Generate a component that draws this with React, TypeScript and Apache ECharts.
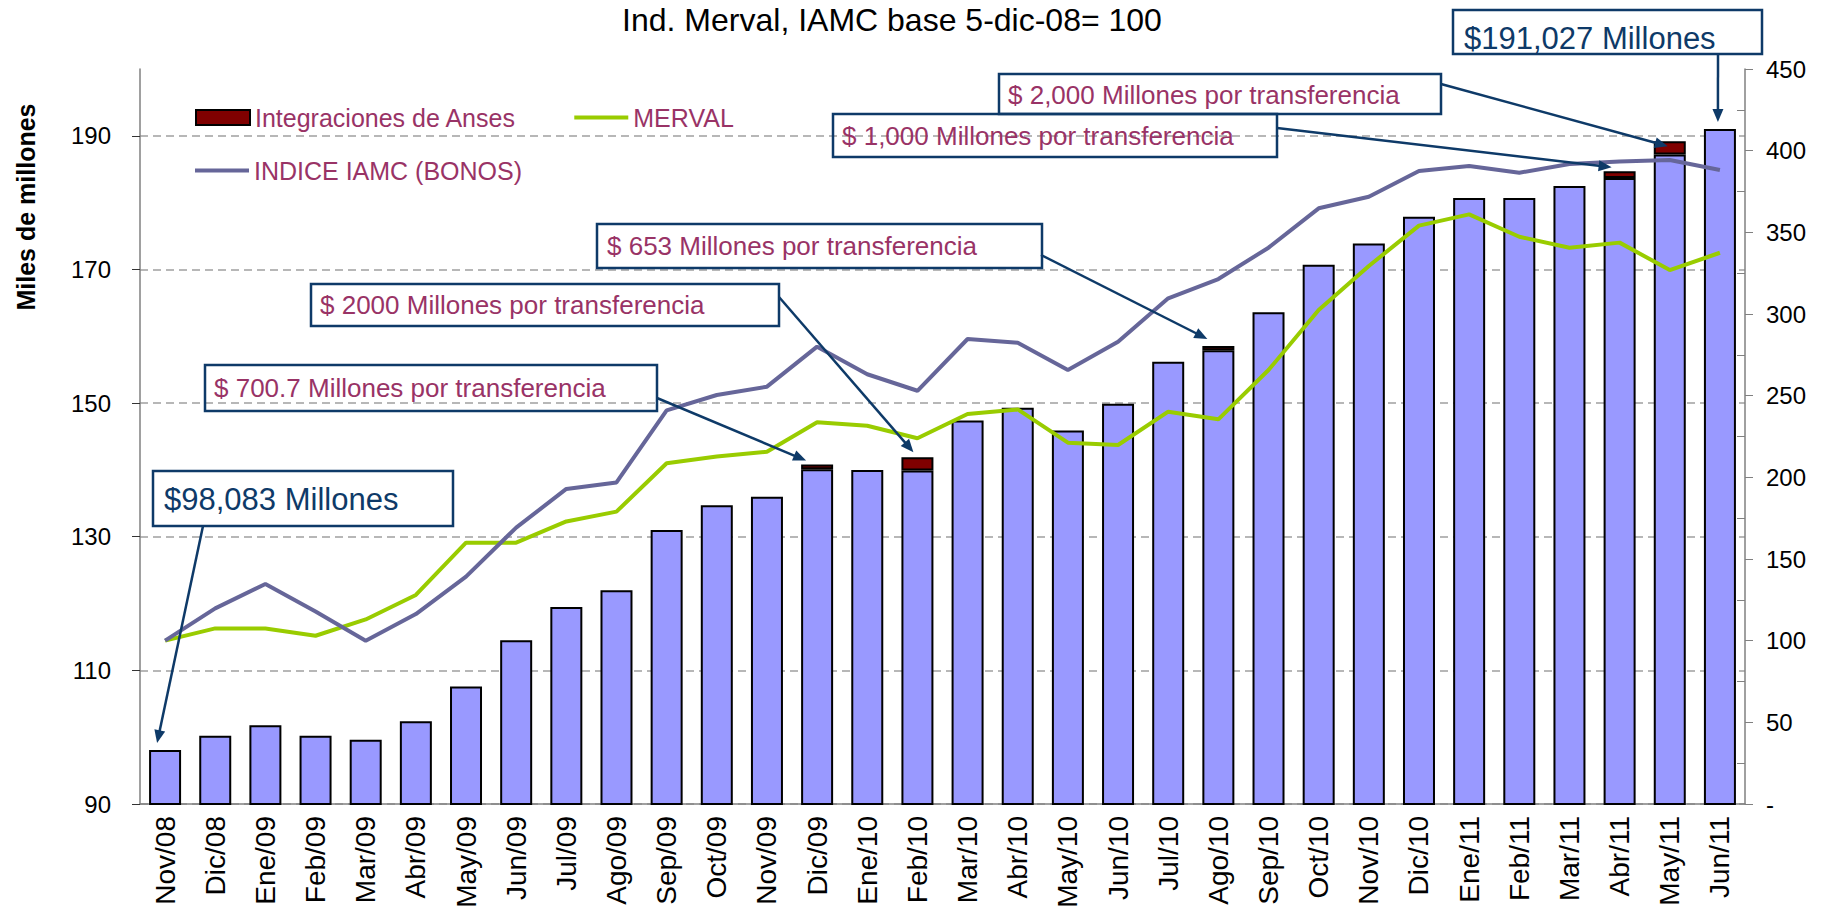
import React, { useEffect, useRef } from 'react';
import * as echarts from 'echarts';

// ---------- DATA ----------
const categories = [
  'Nov/08', 'Dic/08', 'Ene/09', 'Feb/09', 'Mar/09', 'Abr/09', 'May/09', 'Jun/09',
  'Jul/09', 'Ago/09', 'Sep/09', 'Oct/09', 'Nov/09', 'Dic/09', 'Ene/10', 'Feb/10',
  'Mar/10', 'Abr/10', 'May/10', 'Jun/10', 'Jul/10', 'Ago/10', 'Sep/10', 'Oct/10',
  'Nov/10', 'Dic/10', 'Ene/11', 'Feb/11', 'Mar/11', 'Abr/11', 'May/11', 'Jun/11',
];

// Fondo (miles de millones), left axis
const fondoBase = [
  98.08, 100.2, 101.8, 100.2, 99.6, 102.4, 107.6, 114.5,
  119.5, 122.0, 131.0, 134.7, 136.0, 140.1, 140.0, 139.9,
  147.4, 149.3, 145.9, 149.9, 156.2, 157.9, 163.6, 170.7,
  173.9, 177.9, 180.7, 180.7, 182.5, 183.7, 187.2, 191.03,
];

// Integraciones de Anses (miles de millones), stacked on top
const integraciones: (number | null)[] = [
  null, null, null, null, null, null, null, null,
  null, null, null, null, null, 0.7, null, 2.0,
  null, null, null, null, null, 0.65, null, null,
  null, null, null, null, null, 1.0, 2.0, null,
];

// Indices (base 5-dic-08 = 100), right axis
const merval = [
  100, 107.5, 107.5, 103, 113, 128, 160, 160,
  173, 179, 208.6, 212.7, 215.7, 233.7, 231.6, 223.9,
  238.8, 241.6, 221.2, 219.8, 240.2, 235.5, 265.7, 302.4,
  329.4, 354.1, 361.0, 347.3, 340.6, 343.7, 326.9, 337.5,
];

const iamc = [
  100, 119.8, 134.7, 117.8, 100, 116.3, 139.2, 169.2,
  192.9, 196.9, 241, 250.4, 255.5, 280.0, 263.1, 253.0,
  284.7, 282.4, 265.7, 283.0, 309.6, 321.4, 340.6, 364.7,
  371.8, 387.6, 390.6, 386.5, 391.8, 393.3, 394.3, 388.2,
];

const leftTicks = [90, 110, 130, 150, 170, 190];
const rightMin = 0;
const rightMax = 450;
const rightStep = 50;

const titleText = 'Ind. Merval, IAMC base 5-dic-08= 100';
const yAxisTitle = 'Miles de millones';
const legendNames = ['Integraciones de Anses', 'MERVAL', 'INDICE IAMC (BONOS)'];

const calloutTexts = [
  '$98,083 Millones',
  '$ 700.7 Millones por transferencia',
  '$ 2000 Millones por transferencia',
  '$ 653 Millones por transferencia',
  '$ 1,000 Millones por transferencia',
  '$ 2,000 Millones por transferencia',
  '$191,027 Millones',
];
const calloutTargets = [0, 13, 15, 21, 29, 30, 31];

// ---------- LAYOUT / STYLE ----------
const FONT = 'Liberation Sans, Arial, Helvetica, sans-serif';
const NAVY = '#0E3A68';
const PLUM = '#993366';
const AXIS_GRAY = '#808080';

const CALLOUT_LAYOUT = [
  { box: [153, 471, 300, 55], tx: 164, ty: 499, from: [203, 526], off: [-8, -7], size: 31, color: NAVY },
  { box: [205, 365, 452, 46], tx: 214, ty: 388, from: [657, 398], off: [-11, -4], size: 26, color: PLUM },
  { box: [311, 284, 468, 42], tx: 320, ty: 305, from: [779, 297], off: [-4, -5], size: 26, color: PLUM },
  { box: [597, 224, 445, 44], tx: 607, ty: 246, from: [1041, 255], off: [-11, -7], size: 26, color: PLUM },
  { box: [833, 114, 444, 43], tx: 842, ty: 136, from: [1277, 128], off: [-8, -4], size: 26, color: PLUM },
  { box: [999, 74, 442, 40], tx: 1008, ty: 95, from: [1441, 84], off: [-2, 5], size: 26, color: PLUM },
  { box: [1453, 10, 309, 44], tx: 1464, ty: 38, from: [1718, 54], off: [-2, -7], size: 31, color: NAVY },
];

const LINE_ICON = 'path://M0,0H56V4H0Z';

export default function App() {
  const ref = useRef<HTMLDivElement>(null);

  useEffect(() => {
    document.body.style.margin = '0';
    const chart = echarts.init(ref.current as HTMLDivElement, null, { renderer: 'svg' });

    const option: any = {
      animation: false,
      backgroundColor: '#fff',
      textStyle: { fontFamily: FONT },
      title: {
        text: titleText,
        left: 892,
        top: 4,
        padding: 0,
        textAlign: 'center',
        textStyle: { fontSize: 32, fontWeight: 'normal', color: '#000', fontFamily: FONT },
      },
      legend: [
        {
          left: 195,
          top: 105,
          padding: 0,
          itemGap: 58,
          itemWidth: 54,
          itemHeight: 15,
          selectedMode: false,
          textStyle: { color: PLUM, fontSize: 25, fontFamily: FONT },
          data: [
            { name: legendNames[0], icon: 'rect', itemStyle: { color: '#800000', borderColor: '#000', borderWidth: 2 } },
            { name: legendNames[1], icon: LINE_ICON, itemStyle: { color: '#99CC00', borderWidth: 0 } },
          ],
        },
        {
          left: 195,
          top: 158,
          padding: 0,
          itemWidth: 54,
          itemHeight: 15,
          selectedMode: false,
          textStyle: { color: PLUM, fontSize: 25, fontFamily: FONT },
          data: [{ name: legendNames[2], icon: LINE_ICON, itemStyle: { color: '#666699', borderWidth: 0 } }],
        },
      ],
      grid: { left: 140, right: 77, top: 69, bottom: 108, containLabel: false, outerBoundsMode: 'none' },
      xAxis: [
        {
          type: 'category',
          data: categories,
          axisLine: { show: false },
          axisTick: { show: false },
          splitLine: { show: false },
          axisLabel: { rotate: 90, interval: 0, fontSize: 28, color: '#000', margin: 12, fontFamily: FONT },
        },
        {
          type: 'category',
          data: categories,
          position: 'top',
          axisLine: { show: true, lineStyle: { color: AXIS_GRAY, width: 1.5 } },
          axisTick: { show: false },
          axisLabel: { show: false },
          splitLine: { show: false },
        },
      ],
      yAxis: [
        {
          type: 'value',
          min: leftTicks[0],
          max: 200,
          position: 'left',
          axisLine: { show: true, lineStyle: { color: AXIS_GRAY, width: 1.5 } },
          axisTick: { show: true, length: 8, customValues: leftTicks, lineStyle: { color: '#333', width: 1 } },
          axisLabel: { customValues: leftTicks, fontSize: 24, color: '#000', margin: 29, fontFamily: FONT },
          splitLine: { show: true, lineStyle: { color: '#A0A0A0', type: [8, 5], width: 1.5 } },
        },
        {
          type: 'value',
          min: rightMin,
          max: rightMax,
          interval: rightStep,
          position: 'right',
          axisLine: { show: true, lineStyle: { color: AXIS_GRAY, width: 1.5 } },
          axisTick: { show: true, length: 8, lineStyle: { color: AXIS_GRAY, width: 1 } },
          axisLabel: {
            fontSize: 24,
            color: '#000',
            margin: 21,
            fontFamily: FONT,
            formatter: (v: number) => (v === 0 ? '-' : String(v)),
          },
          splitLine: { show: false },
        },
        {
          type: 'value',
          min: rightMin,
          max: rightMax,
          interval: rightStep,
          position: 'right',
          axisLine: { show: false },
          axisTick: { show: false, inside: true },
          axisLabel: { show: false },
          splitLine: { show: false },
          minorTick: { show: true, splitNumber: 2, length: 8, lineStyle: { color: AXIS_GRAY, width: 1 } },
          minorSplitLine: { show: false },
        },
      ],
      series: [
        {
          name: 'Fondo',
          type: 'bar',
          stack: 'total',
          data: fondoBase,
          barWidth: 32,
          clip: true,
          itemStyle: { color: '#9999FF', borderColor: '#000', borderWidth: 2 },
        },
        {
          name: legendNames[0],
          type: 'bar',
          stack: 'total',
          data: integraciones,
          barWidth: 32,
          clip: true,
          itemStyle: { color: '#800000', borderColor: '#000', borderWidth: 2 },
        },
        {
          name: legendNames[1],
          type: 'line',
          yAxisIndex: 1,
          data: merval,
          symbol: 'none',
          color: '#99CC00',
          lineStyle: { width: 4, color: '#99CC00' },
          z: 3,
        },
        {
          name: legendNames[2],
          type: 'line',
          yAxisIndex: 1,
          data: iamc,
          symbol: 'none',
          color: '#666699',
          lineStyle: { width: 4, color: '#666699' },
          z: 3,
        },
      ],
    };

    chart.setOption(option);

    const graphics: any[] = [
      {
        type: 'text',
        x: 26,
        y: 207,
        rotation: Math.PI / 2,
        z: 100,
        style: {
          text: yAxisTitle,
          fill: '#000',
          fontSize: 25,
          fontWeight: 'bold',
          fontFamily: FONT,
          align: 'center',
          verticalAlign: 'middle',
          textAlign: 'center',
          textVerticalAlign: 'middle',
        },
      },
    ];

    CALLOUT_LAYOUT.forEach((c, k) => {
      const idx = calloutTargets[k];
      const top = fondoBase[idx] + (integraciones[idx] ?? 0);
      const p = chart.convertToPixel({ seriesIndex: 0 }, [idx, top]) as number[];
      const ex = p[0] + c.off[0];
      const ey = p[1] + c.off[1];
      const sx = c.from[0];
      const sy = c.from[1];
      const dx = ex - sx;
      const dy = ey - sy;
      const len = Math.hypot(dx, dy) || 1;
      const ux = dx / len;
      const uy = dy / len;
      const L = 13;
      const W = 5.5;
      const bx = ex - ux * L;
      const by = ey - uy * L;

      graphics.push({
        type: 'rect',
        z: 100,
        shape: { x: c.box[0], y: c.box[1], width: c.box[2], height: c.box[3] },
        style: { fill: 'transparent', stroke: NAVY, lineWidth: 2.5 },
      });
      graphics.push({
        type: 'text',
        z: 101,
        x: c.tx,
        y: c.ty,
        style: {
          text: calloutTexts[k],
          fill: c.color,
          fontSize: c.size,
          fontFamily: FONT,
          align: 'left',
          verticalAlign: 'middle',
          textAlign: 'left',
          textVerticalAlign: 'middle',
        },
      });
      graphics.push({
        type: 'line',
        z: 100,
        shape: { x1: sx, y1: sy, x2: bx + ux * 2, y2: by + uy * 2 },
        style: { stroke: NAVY, lineWidth: 2.5 },
      });
      graphics.push({
        type: 'polygon',
        z: 100,
        shape: {
          points: [
            [ex, ey],
            [bx - uy * W, by + ux * W],
            [bx + uy * W, by - ux * W],
          ],
        },
        style: { fill: NAVY },
      });
    });

    chart.setOption({ graphic: graphics });

    return () => {
      chart.dispose();
    };
  }, []);

  return (
    <div
      ref={ref}
      style={{ position: 'absolute', left: 0, top: 0, width: 1822, height: 912 }}
    />
  );
}
